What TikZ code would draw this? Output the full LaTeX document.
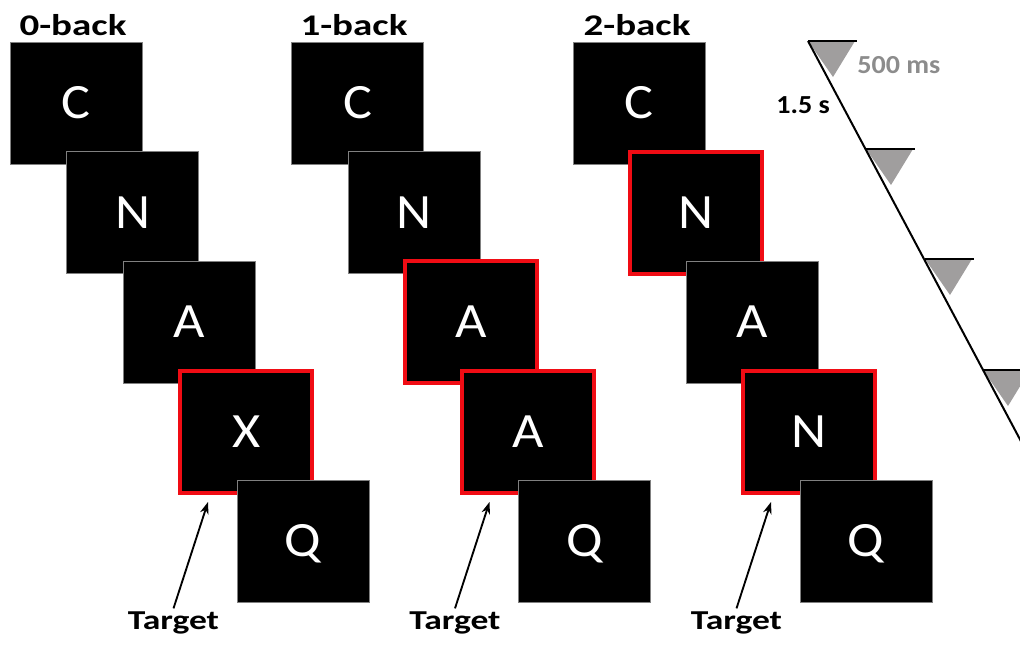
\documentclass[tikz,border=0pt]{standalone}
\usepackage{fontspec}
\setmainfont{Carlito}
\newfontfamily\widefont[FakeStretch=1.3]{Carlito}
\newfontfamily\timefont[FakeStretch=1.08]{Carlito}
\newfontfamily\cardfont[FakeStretch=1.1]{Carlito}
\usetikzlibrary{arrows.meta}
\definecolor{cardred}{RGB}{240,12,20}
\definecolor{tickgray}{RGB}{160,158,158}
\definecolor{labelgray}{RGB}{140,140,140}
\tikzset{
  card/.style={rectangle, fill=black, draw=gray, line width=0.6pt, inner sep=0pt,
    minimum width=99pt, minimum height=91.5pt, text=white,
    text height=23.8pt, text depth=0pt, font=\cardfont\fontsize{37}{40}\selectfont},
  hit/.style={card, draw=cardred, line width=3pt},
  heading/.style={anchor=base, inner sep=0pt, font=\widefont\bfseries\fontsize{22.5}{26}\selectfont},
  marker/.style={anchor=base, inner sep=2pt, font=\widefont\bfseries\fontsize{20.5}{24}\selectfont},
  timelabel/.style={anchor=base west, inner sep=0pt, font=\timefont\bfseries\fontsize{19.5}{22}\selectfont},
  pointer/.style={-{Stealth[length=9pt,width=6.5pt]}, line width=1.4pt},
  tick/.style={line width=1.5pt},
}
\begin{document}
\begin{tikzpicture}[x=0.75pt, y=-0.75pt]
\useasboundingbox (0,0) rectangle (1020,644);

% 0-back column
\node[heading] (h0) at (73,35) {0-back};
\node[card] (a1) at (76,103) {C};
\node[card] (a2) at (132.75,212.5) {N};
\node[card] (a3) at (189.5,322) {A};
\node[hit]  (a4) at (246.25,431.5) {X};
\node[card] (a5) at (303,541) {Q};

% 1-back column
\node[heading] (h1) at (354,35) {1-back};
\node[card] (b1) at (357.5,103) {C};
\node[card] (b2) at (414.25,212.5) {N};
\node[hit]  (b3) at (471,322) {A};
\node[hit]  (b4) at (527.75,431.5) {A};
\node[card] (b5) at (584.5,541) {Q};

% 2-back column
\node[heading] (h2) at (637,35) {2-back};
\node[card] (c1) at (639,103) {C};
\node[hit]  (c2) at (695.75,212.5) {N};
\node[card] (c3) at (752.5,322) {A};
\node[hit]  (c4) at (809.25,431.5) {N};
\node[card] (c5) at (866,541) {Q};

% Target labels
\node[marker] (t0) at (173.5,629) {Target};
\node[marker] (t1) at (455,629) {Target};
\node[marker] (t2) at (736.5,629) {Target};
\coordinate (tip0) at (208,502);
\coordinate (tip1) at (489.5,502);
\coordinate (tip2) at (771,502);
\draw[pointer] (t0.north) -- (tip0);
\draw[pointer] (t1.north) -- (tip1);
\draw[pointer] (t2.north) -- (tip2);

% Timeline
\begin{scope}
\clip (0,0) rectangle (1020,644);
\coordinate (p0) at (808,41);
\coordinate (p1) at (866,149);
\coordinate (p2) at (925,259);
\coordinate (p3) at (983,370);
\coordinate (pend) at (1040,477);
\fill[tickgray] (p0) -- ++(47,0) -- ++(-22,36) -- cycle;
\fill[tickgray] (p1) -- ++(47,0) -- ++(-22,36) -- cycle;
\fill[tickgray] (p2) -- ++(47,0) -- ++(-22,36) -- cycle;
\fill[tickgray] (p3) -- ++(47,0) -- ++(-22,36) -- cycle;
\draw[tick] (p0) -- ++(49,0);
\draw[tick] (p1) -- ++(49,0);
\draw[tick] (p2) -- ++(49,0);
\draw[tick] (p3) -- ++(49,0);
\draw[tick] (p0) -- (pend);
\end{scope}
\node[timelabel, text=labelgray] (dur) at (857,73) {500 ms};
\node[timelabel] (isi) at (776,113) {1.5 s};
\end{tikzpicture}
\end{document}
